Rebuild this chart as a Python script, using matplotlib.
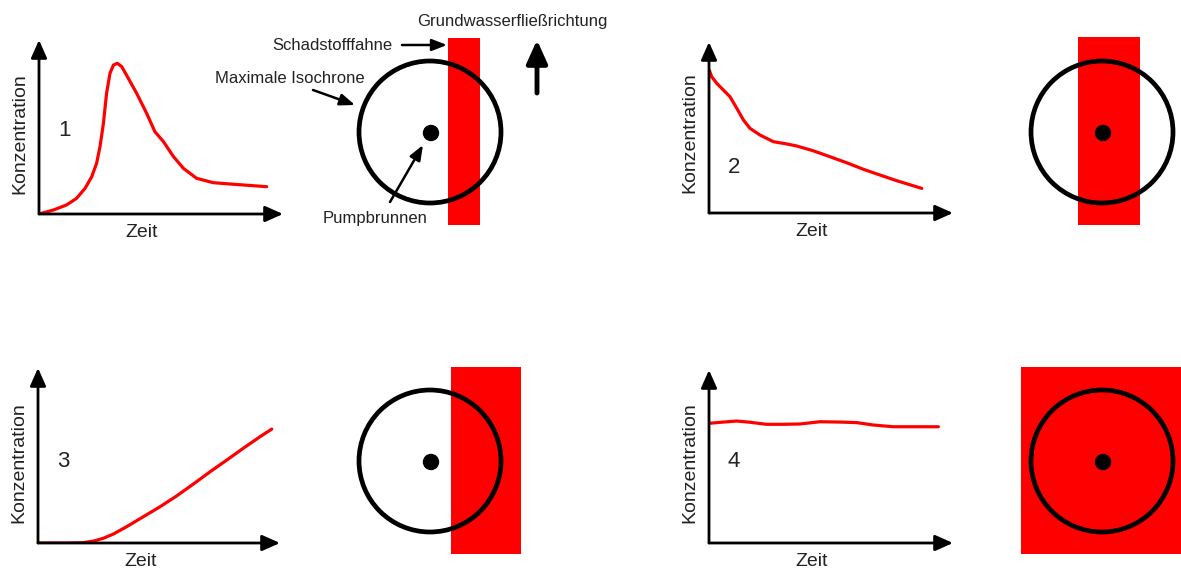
import numpy as np
import matplotlib
matplotlib.use('Agg')
import matplotlib.pyplot as plt
from matplotlib.patches import Circle, Rectangle

plt.rcParams['font.family'] = ['Liberation Sans', 'DejaVu Sans']

# Concentration curves (time 0..10 = axis length, concentration 0..10 = axis height)
t1 = [0, 0.59, 1.13, 1.54, 1.89, 2.16, 2.36, 2.50, 2.64, 2.77, 2.91, 3.05, 3.21, 3.39,
      3.66, 4.00, 4.41, 4.75, 5.10, 5.51, 5.92, 6.46, 7.14, 7.96, 9.33]
c1 = [0, 0.23, 0.52, 0.90, 1.48, 2.14, 2.91, 3.87, 5.21, 6.94, 8.09, 8.56, 8.66, 8.47,
      7.80, 6.94, 5.79, 4.73, 4.16, 3.30, 2.62, 2.05, 1.80, 1.71, 1.57]

t2 = [0.01, 0.11, 0.32, 0.59, 0.86, 1.14, 1.41, 1.68, 2.09, 2.64, 3.18, 3.59, 4.27,
      4.96, 5.64, 6.32, 7.01, 7.69, 8.72]
c2 = [8.36, 7.97, 7.58, 7.19, 6.80, 6.12, 5.44, 4.95, 4.56, 4.17, 4.04, 3.92, 3.64,
      3.29, 2.94, 2.56, 2.22, 1.89, 1.44]

t3 = [0.01, 1.19, 1.87, 2.29, 2.70, 3.11, 3.66, 4.35, 5.04, 5.73, 6.42, 7.11, 7.80,
      8.48, 9.17, 9.66]
c3 = [0, 0, 0.02, 0.11, 0.27, 0.51, 0.93, 1.50, 2.07, 2.69, 3.37, 4.07, 4.74,
      5.41, 6.07, 6.51]

t4 = [0.01, 0.59, 1.14, 1.68, 2.36, 3.05, 3.73, 4.55, 5.37, 6.05, 6.73, 7.55, 8.37, 9.40]
c4 = [6.92, 6.99, 7.05, 6.98, 6.86, 6.86, 6.88, 7.01, 6.99, 6.96, 6.82, 6.72, 6.72, 6.72]

curves = [(t1, c1), (t2, c2), (t3, c3), (t4, c4)]
numbers = ['1', '2', '3', '4']

W, H = 1181, 569
red = '#ff0000'
txt = '#222222'

fig = plt.figure(figsize=(W / 100, H / 100), dpi=100)
ov = fig.add_axes([0, 0, 1, 1])
ov.set_xlim(0, W)
ov.set_ylim(H, 0)
ov.axis('off')

# curve panels: origin (px), axis length x, axis height y, number y offset
panels = [(39, 214, 244, 174, -84), (709, 213, 244, 171, -46),
          (38, 543, 242, 175, -82), (709, 543, 244, 173, -82)]

for (ox, oy, lx, ly, ny), (t, c), num in zip(panels, curves, numbers):
    ax = fig.add_axes([ox / W, (H - oy) / H, lx / W, ly / H])
    ax.set_xlim(0, 10)
    ax.set_ylim(0, 10)
    ax.axis('off')
    ax.patch.set_alpha(0)
    ax.plot(t, c, color=red, lw=2.3, solid_joinstyle='round', solid_capstyle='round', zorder=3)
    for xy in [(10, 0), (0, 10)]:
        ax.annotate('', xy=xy, xytext=(0, 0),
                    arrowprops=dict(arrowstyle='-|>,head_length=0.9,head_width=0.4',
                                    mutation_scale=12, lw=2.0, color='black',
                                    shrinkA=0, shrinkB=0))
    ov.text(ox - 19, oy - 80, 'Konzentration', rotation=90, ha='center', va='center',
            fontsize=14, color=txt)
    ov.text(ox + 103, oy + 18, 'Zeit', ha='center', va='center', fontsize=14, color=txt)
    ov.text(ox + 25, oy + ny, num, ha='center', va='center', fontsize=16, color=txt)

# plume rectangles (x0, y0, x1, y1) and well positions
plumes = [(448, 38, 480, 225), (1078, 37, 1140, 225), (451, 367, 521, 554), (1021, 367, 1181, 554)]
wells = [(430, 132), (1102, 132), (430, 461), (1102, 461)]

for (x0, y0, x1, y1), (cx, cy) in zip(plumes, wells):
    ov.add_patch(Rectangle((x0, y0), x1 - x0, y1 - y0, color=red, lw=0, zorder=1))
    ov.add_patch(Circle((cx, cy), 71, fill=False, ec='black', lw=3.4, zorder=2))
    ov.add_patch(Circle((cx + 1, cy + 1), 7.5, color='black', zorder=3))

# annotations in panel 1
aprops = dict(arrowstyle='-|>,head_length=0.9,head_width=0.35', mutation_scale=10,
              lw=1.8, color='black', shrinkA=0, shrinkB=0)
ov.text(512, 21, 'Grundwasserfließrichtung', ha='center', va='center', fontsize=12, color=txt)
ov.annotate('', xy=(537, 40), xytext=(537, 93),
            arrowprops=dict(arrowstyle='-|>,head_length=1.0,head_width=0.45', mutation_scale=14,
                            lw=3.5, color='black', shrinkA=0, shrinkB=0))
ov.text(332, 45, 'Schadstofffahne', ha='center', va='center', fontsize=12, color=txt)
ov.annotate('', xy=(447, 45), xytext=(402, 45), arrowprops=aprops)
ov.text(290, 78, 'Maximale Isochrone', ha='center', va='center', fontsize=12, color=txt)
ov.annotate('', xy=(355, 105), xytext=(313, 90), arrowprops=aprops)
ov.text(375, 218, 'Pumpbrunnen', ha='center', va='center', fontsize=12, color=txt)
ov.annotate('', xy=(423, 145), xytext=(390, 202), arrowprops=aprops)

fig.savefig('out.png', dpi=100)
